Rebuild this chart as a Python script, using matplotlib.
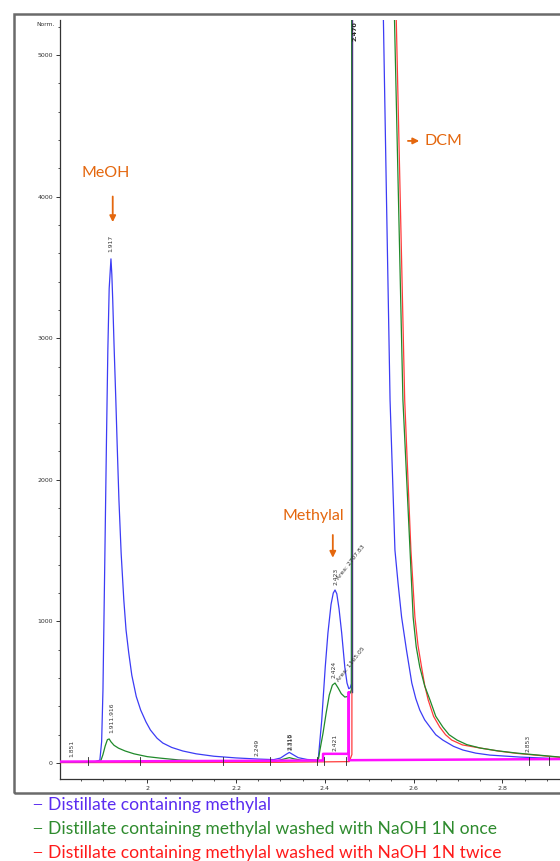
import matplotlib
matplotlib.use("Agg")
from matplotlib import pyplot as plt
from matplotlib.patches import Rectangle
from matplotlib.ticker import MultipleLocator

# retention time (min) / signal (Norm.)
blue_x = [1.803, 1.880, 1.893, 1.897, 1.900, 1.904, 1.908, 1.911, 1.914, 1.918,
          1.920, 1.922, 1.925, 1.929, 1.932, 1.936, 1.941, 1.947, 1.952, 1.958,
          1.965, 1.975, 1.985, 1.997, 2.007, 2.022, 2.035, 2.055, 2.08, 2.11,
          2.15, 2.20, 2.25, 2.285, 2.300, 2.312, 2.320, 2.328, 2.340, 2.360,
          2.385, 2.389, 2.393, 2.396, 2.401, 2.407, 2.414, 2.419, 2.423, 2.427,
          2.432, 2.438, 2.445, 2.450, 2.454, 2.457, 2.460, 2.461, 2.50, 2.532,
          2.539, 2.547, 2.558, 2.565, 2.573, 2.584, 2.596, 2.605, 2.614, 2.625,
          2.637, 2.650, 2.666, 2.690, 2.711, 2.740, 2.772, 2.840, 2.93]
blue_y = [8, 8, 20, 150, 515, 1400, 2300, 2917, 3350, 3560,
          3450, 3270, 2950, 2563, 2250, 1857, 1480, 1151, 940, 780,
          620, 470, 374, 290, 233, 175, 141, 110, 85, 65,
          48, 36, 28, 24, 35, 60, 75, 60, 38, 25,
          20, 162, 300, 445, 680, 918, 1120, 1200, 1222, 1195,
          1090, 918, 678, 565, 525, 530, 560, 9000, 9000, 5250,
          3976, 2563, 1504, 1271, 1031, 798, 565, 455, 374, 305,
          254, 200, 162, 118, 92, 70, 56, 42, 30]

green_x = [1.803, 1.880, 1.895, 1.900, 1.905, 1.910, 1.914, 1.918, 1.925, 1.935,
           1.950, 1.970, 2.000, 2.028, 2.07, 2.12, 2.20, 2.29, 2.31, 2.32,
           2.33, 2.35, 2.385, 2.389, 2.396, 2.403, 2.410, 2.417, 2.423, 2.430,
           2.437, 2.445, 2.452, 2.458, 2.460, 2.461, 2.53, 2.557, 2.566, 2.576,
           2.592, 2.599, 2.606, 2.614, 2.625, 2.637, 2.650, 2.666, 2.680, 2.698,
           2.720, 2.750, 2.790, 2.833, 2.93]
green_y = [5, 8, 15, 60, 120, 165, 170, 150, 125, 105,
           85, 65, 45, 35, 22, 15, 12, 14, 30, 38,
           30, 18, 15, 92, 212, 353, 480, 550, 565, 530,
           490, 466, 470, 500, 520, 9000, 9000, 5250, 3976, 2563,
           1504, 1031, 820, 678, 545, 445, 330, 254, 200, 162,
           130, 106, 86, 70, 42]

red_x = [1.803, 2.30, 2.455, 2.461, 2.462, 2.535, 2.561, 2.570, 2.580, 2.594,
         2.603, 2.610, 2.618, 2.625, 2.633, 2.645, 2.659, 2.672, 2.686, 2.710,
         2.750, 2.790, 2.833, 2.93]
red_y = [3, 5, 10, 60, 9000, 9000, 5250, 3976, 2563, 1504,
         1031, 830, 678, 550, 445, 330, 254, 200, 162, 128,
         106, 85, 68, 40]

magenta_x = [1.803, 2.396, 2.396, 2.454, 2.454, 2.454, 2.93]
magenta_y = [10, 18, 65, 65, 500, 20, 28]

# integration marks on the baseline
mark_x = [1.866, 1.983, 2.17, 2.276, 2.383, 2.399, 2.447, 2.86, 2.905]

# peak labels: (rt, y, text)
peak_labels = [(1.830, 45, "1.851"), (1.918, 3610, "1.917"), (1.921, 215, "1.911.916"),
               (2.247, 50, "2.249"), (2.322, 90, "2.318"), (2.323, 90, "2.319"),
               (2.424, 85, "2.421"), (2.425, 1260, "2.423"), (2.421, 600, "2.424"),
               (2.859, 80, "2.853")]
area_labels = [(2.434, 1290, "Area: 2707.83"), (2.434, 570, "Area: 1165.05")]

legend_texts = ["Distillate containing methylal",
                "Distillate containing methylal washed with NaOH 1N once",
                "Distillate containing methylal washed with NaOH 1N twice"]

c_blue = "#3c3cf5"
c_green = "#1f8a2a"
c_red = "#ff3b3b"
c_mag = "#ff10ff"
c_orange = "#e4670e"

fig = plt.figure(figsize=(5.6, 8.61), dpi=100)
ax = fig.add_axes([0.107, 0.0952, 0.893, 0.8816])

ax.plot(magenta_x, magenta_y, color=c_mag, lw=1.8, zorder=5)
ax.plot(red_x, red_y, color=c_red, lw=0.9, zorder=3)
ax.plot(green_x, green_y, color=c_green, lw=0.9, zorder=4)
ax.plot(blue_x, blue_y, color=c_blue, lw=0.9, zorder=2)
ax.plot([2.462, 2.462], [500, 5300], color="#4b3a7a", lw=1.0, zorder=6)
for m in mark_x:
    ax.plot([m, m], [-15, 45], color="#222222", lw=0.6, zorder=7)

for x, y, t in peak_labels:
    ax.text(x, y, t, rotation=90, fontsize=4.3, color="#333333",
            ha="center", va="bottom", zorder=8)
ax.text(2.469, 5100, "2.470", rotation=90, fontsize=4.5, color="#222222",
        fontweight="bold", ha="center", va="bottom", zorder=8)
for x, y, t in area_labels:
    ax.text(x, y, t, rotation=52, fontsize=4.3, color="#333333",
            ha="left", va="bottom", rotation_mode="anchor", zorder=8)

ax.set_xlim(1.803, 2.930)
ax.set_ylim(-113, 5247)
ax.xaxis.set_major_locator(MultipleLocator(0.2))
ax.xaxis.set_minor_locator(MultipleLocator(0.05))
ax.yaxis.set_major_locator(MultipleLocator(1000))
ax.yaxis.set_minor_locator(MultipleLocator(200))
ax.set_xticks([2.0, 2.2, 2.4, 2.6, 2.8])
ax.set_xticklabels(["2", "2.2", "2.4", "2.6", "2.8"])
ax.tick_params(which="major", length=3, width=0.7, labelsize=4.5, pad=2, colors="#333333")
ax.tick_params(which="minor", length=1.6, width=0.6, colors="#333333")
for s in ["top", "right"]:
    ax.spines[s].set_visible(False)
for s in ["left", "bottom"]:
    ax.spines[s].set_linewidth(0.9)
    ax.spines[s].set_color("#333333")

fig.text(55 / 560, 1 - 25 / 861, "Norm.", fontsize=4.3, color="#333333", ha="right", va="center")

# orange annotations
arrow = dict(arrowstyle="-|>", color=c_orange, lw=1.3, mutation_scale=9)
ax.text(1.906, 4167, "MeOH", color=c_orange, fontsize=11.5, ha="center", va="center", family="Lato")
ax.annotate("", xy=(1.922, 3800), xytext=(1.922, 4020), arrowprops=arrow)
ax.text(2.373, 1744, "Methylal", color=c_orange, fontsize=11.5, ha="center", va="center", family="Lato")
ax.annotate("", xy=(2.418, 1430), xytext=(2.418, 1630), arrowprops=arrow)
ax.annotate("", xy=(2.619, 4393), xytext=(2.581, 4393), arrowprops=arrow)
ax.text(2.624, 4393, "DCM", color=c_orange, fontsize=11.5, ha="left", va="center", family="Lato")

# outer frame
fig.patches.append(Rectangle((14 / 560, 1 - 793 / 861), 1.2, (793 - 14) / 861,
                             transform=fig.transFigure, fill=False,
                             edgecolor="#6a6a6a", lw=1.8, clip_on=False))

for i, (t, c) in enumerate(zip(legend_texts, ["#5a2cf0", "#2e8b2e", "#ff1a1a"])):
    yy = 1 - (805 + i * 24) / 861
    fig.text(32 / 560, yy, "\u2014", color=c, fontsize=9, family="Lato", va="center")
    fig.text(48 / 560, yy, t, color=c, fontsize=12.6, family="Lato", va="center")

fig.savefig("out.png", dpi=100)
